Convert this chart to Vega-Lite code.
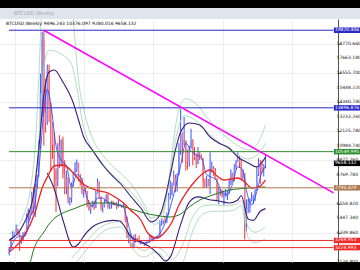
{
  "$schema": "https://vega.github.io/schema/vega-lite/v6.json",
  "background": "#000000",
  "padding": {"top": 8, "left": 0, "right": 0, "bottom": 8},
  "spacing": 0,
  "bounds": "flush",
  "config": {"view": {"stroke": null}, "font": "DejaVu Sans"},
  "datasets": {
    "candles": [
      {"i":0,"o":2730,"h":3290,"l":2620,"c":3230},{"i":1,"o":3230,"h":3970,"l":3140,"c":3880},{"i":2,"o":3880,"h":4480,"l":3850,"c":4170},{"i":3,"o":4170,"h":4380,"l":3990,"c":4350},
      {"i":4,"o":4350,"h":4980,"l":4300,"c":4580},{"i":5,"o":4580,"h":4700,"l":4150,"c":4220},{"i":6,"o":4220,"h":4400,"l":2970,"c":3700},{"i":7,"o":3700,"h":4100,"l":3500,"c":3780},
      {"i":8,"o":3780,"h":4400,"l":3700,"c":4360},{"i":9,"o":4360,"h":4450,"l":4150,"c":4430},{"i":10,"o":4430,"h":5850,"l":4430,"c":5650},{"i":11,"o":5650,"h":6200,"l":5100,"c":6000},
      {"i":12,"o":6000,"h":6100,"l":5400,"c":5750},{"i":13,"o":5750,"h":7500,"l":5700,"c":7380},{"i":14,"o":7380,"h":7880,"l":5850,"c":6350},{"i":15,"o":6350,"h":8100,"l":5550,"c":7780},
      {"i":16,"o":7780,"h":8800,"l":7700,"c":8750},{"i":17,"o":8750,"h":11400,"l":8600,"c":10900},{"i":18,"o":10900,"h":16500,"l":10800,"c":15000},{"i":19,"o":15000,"h":19700,"l":13200,"c":19100},
      {"i":20,"o":19100,"h":19820,"l":11000,"c":13500},{"i":21,"o":13500,"h":16100,"l":12000,"c":12800},{"i":22,"o":12800,"h":17200,"l":12600,"c":16800},{"i":23,"o":16800,"h":17200,"l":12800,"c":14100},
      {"i":24,"o":14100,"h":14300,"l":9100,"c":12700},{"i":25,"o":12700,"h":12800,"l":10000,"c":11100},{"i":26,"o":11100,"h":12000,"l":7700,"c":9100},{"i":27,"o":9100,"h":9300,"l":5950,"c":8400},
      {"i":28,"o":8400,"h":11200,"l":7900,"c":11000},{"i":29,"o":11000,"h":11800,"l":9300,"c":9600},{"i":30,"o":9600,"h":11500,"l":9400,"c":11400},{"i":31,"o":11400,"h":11700,"l":8500,"c":8800},
      {"i":32,"o":8800,"h":9900,"l":7300,"c":7900},{"i":33,"o":7900,"h":9100,"l":7300,"c":8500},{"i":34,"o":8500,"h":8600,"l":6600,"c":6900},{"i":35,"o":6900,"h":7100,"l":6450,"c":7000},
      {"i":36,"o":7000,"h":8200,"l":6650,"c":8000},{"i":37,"o":8000,"h":9000,"l":7900,"c":8900},{"i":38,"o":8900,"h":9750,"l":8700,"c":9300},{"i":39,"o":9300,"h":9950,"l":9000,"c":9700},
      {"i":40,"o":9700,"h":9700,"l":8300,"c":8500},{"i":41,"o":8500,"h":8850,"l":7950,"c":8200},{"i":42,"o":8200,"h":8550,"l":7300,"c":7500},{"i":43,"o":7500,"h":7700,"l":7050,"c":7600},
      {"i":44,"o":7600,"h":7780,"l":7480,"c":7550},{"i":45,"o":7550,"h":7550,"l":6300,"c":6450},{"i":46,"o":6450,"h":6850,"l":6050,"c":6100},{"i":47,"o":6100,"h":6500,"l":5800,"c":6400},
      {"i":48,"o":6400,"h":6800,"l":6300,"c":6750},{"i":49,"o":6750,"h":6800,"l":6100,"c":6250},{"i":50,"o":6250,"h":7600,"l":6250,"c":7400},{"i":51,"o":7400,"h":8500,"l":7350,"c":8200},
      {"i":52,"o":8200,"h":8280,"l":7000,"c":7050},{"i":53,"o":7050,"h":7150,"l":6050,"c":6300},{"i":54,"o":6300,"h":6600,"l":5900,"c":6400},{"i":55,"o":6400,"h":6900,"l":6300,"c":6700},
      {"i":56,"o":6700,"h":7300,"l":6650,"c":7200},{"i":57,"o":7200,"h":7420,"l":6200,"c":6400},{"i":58,"o":6400,"h":6550,"l":6150,"c":6500},{"i":59,"o":6500,"h":6800,"l":6200,"c":6700},
      {"i":60,"o":6700,"h":6800,"l":6450,"c":6600},{"i":61,"o":6600,"h":6650,"l":6450,"c":6580},{"i":62,"o":6580,"h":6700,"l":6150,"c":6300},{"i":63,"o":6300,"h":6900,"l":6300,"c":6450},
      {"i":64,"o":6450,"h":6550,"l":6400,"c":6480},{"i":65,"o":6480,"h":6500,"l":6250,"c":6380},{"i":66,"o":6380,"h":6550,"l":6350,"c":6400},{"i":67,"o":6400,"h":6450,"l":5150,"c":5550},
      {"i":68,"o":5550,"h":5600,"l":3950,"c":4000},{"i":69,"o":4000,"h":4400,"l":3550,"c":4200},{"i":70,"o":4200,"h":4300,"l":3300,"c":3400},{"i":71,"o":3400,"h":3600,"l":3200,"c":3200},
      {"i":72,"o":3200,"h":4200,"l":3200,"c":3950},{"i":73,"o":3950,"h":4250,"l":3600,"c":3850},{"i":74,"o":3850,"h":3950,"l":3650,"c":3800},{"i":75,"o":3800,"h":4150,"l":3550,"c":3600},
      {"i":76,"o":3600,"h":3750,"l":3450,"c":3650},{"i":77,"o":3650,"h":3650,"l":3500,"c":3550},{"i":78,"o":3550,"h":3600,"l":3350,"c":3500},{"i":79,"o":3500,"h":3700,"l":3400,"c":3650},
      {"i":80,"o":3650,"h":3700,"l":3550,"c":3600},{"i":81,"o":3600,"h":4200,"l":3600,"c":4100},{"i":82,"o":4100,"h":4200,"l":3700,"c":3820},{"i":83,"o":3820,"h":4000,"l":3700,"c":3950},
      {"i":84,"o":3950,"h":4050,"l":3850,"c":4000},{"i":85,"o":4000,"h":4100,"l":3950,"c":4000},{"i":86,"o":4000,"h":4150,"l":3900,"c":4100},{"i":87,"o":4100,"h":5300,"l":4100,"c":5050},
      {"i":88,"o":5050,"h":5450,"l":4900,"c":5080},{"i":89,"o":5080,"h":5350,"l":5000,"c":5300},{"i":90,"o":5300,"h":5650,"l":5100,"c":5200},{"i":91,"o":5200,"h":5900,"l":5100,"c":5800},
      {"i":92,"o":5800,"h":7400,"l":5700,"c":7250},{"i":93,"o":7250,"h":8350,"l":6900,"c":7300},{"i":94,"o":7300,"h":8200,"l":7200,"c":8000},{"i":95,"o":8000,"h":9100,"l":7950,"c":8550},
      {"i":96,"o":8550,"h":8800,"l":7450,"c":7800},{"i":97,"o":7800,"h":8900,"l":7500,"c":8800},{"i":98,"o":8800,"h":11200,"l":8800,"c":10700},{"i":99,"o":10700,"h":13800,"l":10300,"c":11900},
      {"i":100,"o":11900,"h":12000,"l":9700,"c":11250},{"i":101,"o":11250,"h":13200,"l":11000,"c":11400},{"i":102,"o":11400,"h":11400,"l":9100,"c":10500},{"i":103,"o":10500,"h":10700,"l":9200,"c":9800},
      {"i":104,"o":9800,"h":11000,"l":9400,"c":10800},{"i":105,"o":10800,"h":12300,"l":10800,"c":11400},{"i":106,"o":11400,"h":11500,"l":9500,"c":10300},{"i":107,"o":10300,"h":10900,"l":9900,"c":10100},
      {"i":108,"o":10100,"h":10400,"l":9300,"c":9600},{"i":109,"o":9600,"h":10900,"l":9600,"c":10400},{"i":110,"o":10400,"h":10500,"l":9900,"c":10350},{"i":111,"o":10350,"h":10350,"l":9950,"c":10000},
      {"i":112,"o":10000,"h":10050,"l":7800,"c":8200},{"i":113,"o":8200,"h":8500,"l":7800,"c":8150},{"i":114,"o":8150,"h":8700,"l":7800,"c":8300},{"i":115,"o":8300,"h":8450,"l":7900,"c":7950},
      {"i":116,"o":7950,"h":10500,"l":7300,"c":9250},{"i":117,"o":9250,"h":9800,"l":8950,"c":9300},{"i":118,"o":9300,"h":9450,"l":8700,"c":8800},{"i":119,"o":8800,"h":9300,"l":8400,"c":8500},
      {"i":120,"o":8500,"h":8500,"l":6800,"c":7300},{"i":121,"o":7300,"h":7900,"l":6550,"c":7550},{"i":122,"o":7550,"h":7700,"l":7200,"c":7500},{"i":123,"o":7500,"h":7650,"l":7050,"c":7100},
      {"i":124,"o":7100,"h":7500,"l":6450,"c":7150},{"i":125,"o":7150,"h":7700,"l":7100,"c":7300},{"i":126,"o":7300,"h":7600,"l":6850,"c":7350},{"i":127,"o":7350,"h":8450,"l":7350,"c":8050},
      {"i":128,"o":8050,"h":9200,"l":8000,"c":8900},{"i":129,"o":8900,"h":8950,"l":8250,"c":8350},{"i":130,"o":8350,"h":9600,"l":8300,"c":9350},{"i":131,"o":9350,"h":9900,"l":9150,"c":9800},
      {"i":132,"o":9800,"h":10500,"l":9750,"c":9900},{"i":133,"o":9900,"h":10200,"l":9300,"c":9700},{"i":134,"o":9700,"h":9950,"l":8450,"c":8550},{"i":135,"o":8550,"h":9200,"l":8400,"c":8900},
      {"i":136,"o":8900,"h":8900,"l":3850,"c":5350},{"i":137,"o":5350,"h":6900,"l":4450,"c":6200},{"i":138,"o":6200,"h":6950,"l":5850,"c":6250},{"i":139,"o":6250,"h":7000,"l":5900,"c":6850},
      {"i":140,"o":6850,"h":7450,"l":6750,"c":6900},{"i":141,"o":6900,"h":7250,"l":6550,"c":7250},{"i":142,"o":7250,"h":7700,"l":6800,"c":7550},{"i":143,"o":7550,"h":9450,"l":7550,"c":8850},
      {"i":144,"o":8850,"h":10050,"l":8700,"c":9550},{"i":145,"o":9550,"h":9900,"l":8100,"c":9350},{"i":146,"o":9350,"h":9900,"l":8900,"c":9200},{"i":147,"o":9200,"h":9600,"l":8650,"c":9450},
      {"i":148,"o":9496.243,"h":10376.097,"l":9280.016,"c":9658.132}
    ],
    "fast": [
      {"i":0,"v":2900},{"i":3,"v":3800},{"i":6,"v":4100},{"i":9,"v":4100},{"i":12,"v":5500},{"i":15,"v":6700},{"i":18,"v":10500},{"i":20,"v":13800},{"i":22,"v":15300},{"i":24,"v":14200},{"i":27,"v":11000},{"i":30,"v":9900},{"i":33,"v":9500},{"i":36,"v":7800},{"i":39,"v":8800},{"i":42,"v":8400},{"i":45,"v":7000},{"i":48,"v":6400},{"i":51,"v":7000},{"i":54,"v":7000},{"i":57,"v":6700},{"i":60,"v":6550},{"i":63,"v":6450},{"i":66,"v":6300},{"i":68,"v":5400},{"i":70,"v":4400},{"i":72,"v":3700},{"i":75,"v":3750},{"i":78,"v":3570},{"i":81,"v":3700},{"i":84,"v":3950},{"i":87,"v":4300},{"i":90,"v":5100},{"i":93,"v":6300},{"i":96,"v":7800},{"i":99,"v":9500},{"i":102,"v":11200},{"i":105,"v":10600},{"i":108,"v":10300},{"i":111,"v":10100},{"i":114,"v":8800},{"i":117,"v":8600},{"i":120,"v":8300},{"i":123,"v":7400},{"i":126,"v":7250},{"i":129,"v":8100},{"i":132,"v":9400},{"i":135,"v":9100},{"i":137,"v":7600},{"i":140,"v":6500},{"i":143,"v":7500},{"i":146,"v":9000},{"i":148,"v":9400}
    ],
    "ma20": [
      {"i":0,"v":2889},{"i":9,"v":4187},{"i":15,"v":5943},{"i":19,"v":7776},{"i":22,"v":8615},{"i":26,"v":9455},{"i":31,"v":9532},{"i":37,"v":8921},{"i":42,"v":8157},{"i":50,"v":7623},{"i":57,"v":7394},{"i":62,"v":7012},{"i":66,"v":6630},{"i":70,"v":6096},{"i":76,"v":5332},{"i":80,"v":4340},{"i":85,"v":3958},{"i":90,"v":4416},{"i":94,"v":5180},{"i":98,"v":6478},{"i":101,"v":7165},{"i":105,"v":7928},{"i":109,"v":8539},{"i":113,"v":8997},{"i":116,"v":9150},{"i":120,"v":8692},{"i":124,"v":8386},{"i":128,"v":8463},{"i":132,"v":8539},{"i":136,"v":8233},{"i":140,"v":7776},{"i":144,"v":7852},{"i":148,"v":8386}
    ],
    "ma50": [
      {"i":0,"v":1200},{"i":12,"v":2126},{"i":14,"v":3042},{"i":20,"v":4416},{"i":25,"v":5332},{"i":31,"v":5867},{"i":37,"v":6172},{"i":48,"v":6630},{"i":59,"v":6630},{"i":65,"v":6401},{"i":76,"v":5943},{"i":87,"v":5638},{"i":93,"v":5561},{"i":99,"v":5790},{"i":104,"v":6325},{"i":110,"v":6859},{"i":116,"v":7165},{"i":121,"v":7394},{"i":127,"v":7623},{"i":132,"v":7699},{"i":138,"v":7776},{"i":148,"v":7852}
    ],
    "pband": [
      {"s":"u","i":0,"v":3805},{"s":"u","i":8,"v":4950},{"s":"u","i":14,"v":7241},{"s":"u","i":17,"v":10677},{"s":"u","i":20,"v":14876},{"s":"u","i":23,"v":16632},{"s":"u","i":26,"v":16785},{"s":"u","i":31,"v":15868},{"s":"u","i":37,"v":14265},{"s":"u","i":40,"v":12967},{"s":"u","i":43,"v":11669},{"s":"u","i":48,"v":10677},{"s":"u","i":54,"v":9532},{"s":"u","i":59,"v":8768},{"s":"u","i":65,"v":8004},{"s":"u","i":70,"v":7165},{"s":"u","i":76,"v":6248},{"s":"u","i":82,"v":5180},{"s":"u","i":87,"v":5714},{"s":"u","i":93,"v":8768},{"s":"u","i":96,"v":10677},{"s":"u","i":99,"v":12051},{"s":"u","i":104,"v":12738},{"s":"u","i":110,"v":12586},{"s":"u","i":116,"v":11669},{"s":"u","i":121,"v":11211},{"s":"u","i":127,"v":10829},{"s":"u","i":132,"v":10142},{"s":"u","i":138,"v":9684},{"s":"u","i":143,"v":9379},{"s":"u","i":148,"v":10142},
      {"s":"l","i":22,"v":8921},{"s":"l","i":26,"v":7700},{"s":"l","i":31,"v":5332},{"s":"l","i":37,"v":3271},{"s":"l","i":40,"v":3500},{"s":"l","i":43,"v":4100},{"s":"l","i":48,"v":4800},{"s":"l","i":54,"v":5180},{"s":"l","i":60,"v":5300},{"s":"l","i":64,"v":5250},{"s":"l","i":66,"v":4950},{"s":"l","i":70,"v":4100},{"s":"l","i":76,"v":3650},{"s":"l","i":82,"v":3200},{"s":"l","i":87,"v":2600},{"s":"l","i":90,"v":2200},{"s":"l","i":93,"v":2500},{"s":"l","i":99,"v":5000},{"s":"l","i":104,"v":6700},{"s":"l","i":109,"v":7100},{"s":"l","i":115,"v":6900},{"s":"l","i":121,"v":6780},{"s":"l","i":127,"v":6630},{"s":"l","i":132,"v":6859},{"s":"l","i":134,"v":7200},{"s":"l","i":138,"v":5400},{"s":"l","i":141,"v":5300},{"s":"l","i":145,"v":6000},{"s":"l","i":148,"v":6200}
    ],
    "gband": [
      {"s":"u1","i":0,"v":4300},{"s":"u1","i":8,"v":5600},{"s":"u1","i":12,"v":7500},{"s":"u1","i":15,"v":11000},{"s":"u1","i":17,"v":16000},{"s":"u1","i":19,"v":21500},{"s":"u1","i":30,"v":23500},{"s":"u1","i":36,"v":22000},{"s":"u1","i":38,"v":19000},{"s":"u1","i":40,"v":16000},{"s":"u1","i":43,"v":13800},{"s":"u1","i":48,"v":11600},{"s":"u1","i":54,"v":10300},{"s":"u1","i":60,"v":9400},{"s":"u1","i":66,"v":8700},{"s":"u1","i":72,"v":7800},{"s":"u1","i":78,"v":6500},{"s":"u1","i":84,"v":5000},{"s":"u1","i":88,"v":5300},{"s":"u1","i":92,"v":8200},{"s":"u1","i":95,"v":11500},{"s":"u1","i":98,"v":13800},{"s":"u1","i":102,"v":14600},{"s":"u1","i":108,"v":14200},{"s":"u1","i":114,"v":13200},{"s":"u1","i":120,"v":12300},{"s":"u1","i":126,"v":11600},{"s":"u1","i":132,"v":11000},{"s":"u1","i":138,"v":10700},{"s":"u1","i":144,"v":11300},{"s":"u1","i":148,"v":12600},
      {"s":"u2","i":16,"v":9000},{"s":"u2","i":18,"v":13000},{"s":"u2","i":20,"v":17000},{"s":"u2","i":23,"v":18300},{"s":"u2","i":30,"v":18000},{"s":"u2","i":36,"v":17200},{"s":"u2","i":39,"v":15500},{"s":"u2","i":42,"v":13000},{"s":"u2","i":46,"v":11200},{"s":"u2","i":52,"v":10000},{"s":"u2","i":58,"v":9000},{"s":"u2","i":64,"v":8300},{"s":"u2","i":70,"v":7500},{"s":"u2","i":76,"v":6600},{"s":"u2","i":82,"v":5500},{"s":"u2","i":88,"v":5800},{"s":"u2","i":93,"v":9000},{"s":"u2","i":97,"v":12000},{"s":"u2","i":101,"v":13300},{"s":"u2","i":108,"v":12900},{"s":"u2","i":114,"v":12100},{"s":"u2","i":120,"v":11400},{"s":"u2","i":126,"v":10800},{"s":"u2","i":132,"v":10300},{"s":"u2","i":138,"v":10000},{"s":"u2","i":144,"v":10400},{"s":"u2","i":148,"v":11200},
      {"s":"l1","i":0,"v":2200},{"s":"l1","i":6,"v":1800},{"s":"l1","i":34,"v":1500},{"s":"l1","i":40,"v":2300},{"s":"l1","i":46,"v":3300},{"s":"l1","i":52,"v":4200},{"s":"l1","i":58,"v":4700},{"s":"l1","i":64,"v":4800},{"s":"l1","i":68,"v":4200},{"s":"l1","i":72,"v":3000},{"s":"l1","i":78,"v":2500},{"s":"l1","i":84,"v":2900},{"s":"l1","i":90,"v":2300},{"s":"l1","i":94,"v":1200},{"s":"l1","i":100,"v":2000},{"s":"l1","i":106,"v":4500},{"s":"l1","i":112,"v":5800},{"s":"l1","i":118,"v":6000},{"s":"l1","i":124,"v":6000},{"s":"l1","i":130,"v":6100},{"s":"l1","i":134,"v":6400},{"s":"l1","i":138,"v":4000},{"s":"l1","i":142,"v":3600},{"s":"l1","i":148,"v":3900},
      {"s":"l2","i":36,"v":2400},{"s":"l2","i":40,"v":3000},{"s":"l2","i":46,"v":3900},{"s":"l2","i":52,"v":4700},{"s":"l2","i":58,"v":5100},{"s":"l2","i":64,"v":5200},{"s":"l2","i":68,"v":4700},{"s":"l2","i":72,"v":3600},{"s":"l2","i":78,"v":3000},{"s":"l2","i":84,"v":3300},{"s":"l2","i":90,"v":2900},{"s":"l2","i":94,"v":2300},{"s":"l2","i":100,"v":3400},{"s":"l2","i":106,"v":5600},{"s":"l2","i":112,"v":6400},{"s":"l2","i":118,"v":6500},{"s":"l2","i":124,"v":6400},{"s":"l2","i":130,"v":6500},{"s":"l2","i":134,"v":6800},{"s":"l2","i":138,"v":4800},{"s":"l2","i":142,"v":4400},{"s":"l2","i":148,"v":4800}
    ],
    "ticks": [
      {"v":2124.9,"label":"2124.900"},{"v":4339.86,"label":"4339.860"},{"v":5447.34,"label":"5447.340"},{"v":6554.82,"label":"6554.820"},{"v":8769.78,"label":"8769.780"},{"v":9877.26,"label":"9877.260"},{"v":10984.74,"label":"10984.740"},{"v":12125.78,"label":"12125.780"},{"v":13233.26,"label":"13233.260"},{"v":14340.74,"label":"14340.740"},{"v":15448.22,"label":"15448.220"},{"v":16555.7,"label":"16555.700"},{"v":17663.18,"label":"17663.180"},{"v":18770.66,"label":"18770.660"}
    ],
    "levels": [
      {"v":19820.406,"label":"19820.406","col":"#2a2ac4"},
      {"v":13896.876,"label":"13896.876","col":"#2a2ac4"},
      {"v":10549.995,"label":"10549.995","col":"#2e8b2e"},
      {"v":7790.429,"label":"7790.429","col":"#b07a52"},
      {"v":3769.953,"label":"3769.953","col":"#f02828"},
      {"v":3224.993,"label":"3224.993","col":"#f02828"}
    ],
    "current": [{"v":9658.132,"label":"9658.132"}],
    "trend": [{"i":20,"v":19820.406},{"i":187.3,"v":7400}]
  },
  "vconcat": [
    {
      "width": 360,
      "height": 11,
      "view": {"fill": "#dfe5ec", "stroke": null},
      "title": {"text": "BTCUSD,Weekly", "anchor": "start", "offset": -8, "dx": 14, "fontSize": 5, "fontWeight": "normal", "color": "#9aa6b4", "font": "DejaVu Sans"},
      "data": {"values": [{"a": 1}]},
      "mark": {"type": "point", "opacity": 0},
      "encoding": {}
    },
    {
      "width": 360,
      "height": 243,
      "view": {"fill": "#ffffff", "stroke": null},
      "title": {"text": "BTCUSD,Weekly  9496.243 10376.097 9280.016 9658.132", "anchor": "start", "offset": -6, "dx": 6, "fontSize": 4.5, "fontWeight": "normal", "color": "#000000", "font": "DejaVu Sans"},
      "layer": [
        {
          "data": {"name": "candles"},
          "mark": {"type": "rule", "strokeWidth": 0.9, "clip": true},
          "encoding": {
            "x": {"field": "i", "type": "quantitative", "scale": {"domain": [-2.46, 199.7], "nice": false, "zero": false},
                  "axis": {"title": null, "labels": false, "ticks": false, "domain": false, "grid": true, "gridColor": "#eceef3", "values": [3.3,13.3,23.3,33.3,43.3,53.3,63.3,73.3,83.3,93.3,103.3,113.3,123.3,133.3,143.3,153.3,163.3,173.3,183.3]}},
            "y": {"field": "l", "type": "quantitative", "scale": {"domain": [2125.7, 20678], "nice": false, "zero": false},
                  "axis": {"orient": "right", "offset": -22, "title": null, "labels": false, "values": [2124.9,4339.86,5447.34,6554.82,8769.78,9877.26,10984.74,12125.78,13233.26,14340.74,15448.22,16555.7,17663.18,18770.66],
                           "tickSize": 2, "tickColor": "#555555", "domainColor": "#555555", "gridColor": "#eceef3"}},
            "y2": {"field": "h"},
            "color": {"condition": {"test": "datum.c >= datum.o", "value": "#2040ff"}, "value": "#f01c1c"}
          }
        },
        {
          "data": {"name": "candles"},
          "mark": {"type": "bar", "size": 1.4, "clip": true},
          "encoding": {
            "x": {"field": "i", "type": "quantitative"},
            "y": {"field": "o", "type": "quantitative"},
            "y2": {"field": "c"},
            "color": {"condition": {"test": "datum.c >= datum.o", "value": "#8c8cf0"}, "value": "#f07a8a"}
          }
        },
        {
          "data": {"name": "gband"},
          "mark": {"type": "line", "color": "#9fd4ae", "strokeWidth": 0.8, "interpolate": "monotone", "clip": true},
          "encoding": {"x": {"field": "i", "type": "quantitative"}, "y": {"field": "v", "type": "quantitative"}, "detail": {"field": "s"}}
        },
        {
          "data": {"name": "fast"},
          "mark": {"type": "line", "color": "#1f3cff", "strokeWidth": 0.8, "interpolate": "monotone", "clip": true},
          "encoding": {"x": {"field": "i", "type": "quantitative"}, "y": {"field": "v", "type": "quantitative"}}
        },
        {
          "data": {"name": "pband"},
          "mark": {"type": "line", "color": "#3a1d78", "strokeWidth": 1.1, "interpolate": "monotone", "clip": true},
          "encoding": {"x": {"field": "i", "type": "quantitative"}, "y": {"field": "v", "type": "quantitative"}, "detail": {"field": "s"}}
        },
        {
          "data": {"name": "ma50"},
          "mark": {"type": "line", "color": "#1f7a1f", "strokeWidth": 1, "interpolate": "monotone", "clip": true},
          "encoding": {"x": {"field": "i", "type": "quantitative"}, "y": {"field": "v", "type": "quantitative"}}
        },
        {
          "data": {"name": "ma20"},
          "mark": {"type": "line", "color": "#ee2020", "strokeWidth": 1.3, "interpolate": "monotone", "clip": true},
          "encoding": {"x": {"field": "i", "type": "quantitative"}, "y": {"field": "v", "type": "quantitative"}}
        },
        {
          "data": {"name": "levels"},
          "mark": {"type": "rule", "strokeWidth": 1},
          "encoding": {"x": {"datum": -0.2}, "x2": {"datum": 187.3}, "y": {"field": "v", "type": "quantitative"}, "color": {"field": "col", "type": "nominal", "scale": null}}
        },
        {
          "data": {"name": "trend"},
          "mark": {"type": "line", "color": "#ff00ff", "strokeWidth": 1.5},
          "encoding": {"x": {"field": "i", "type": "quantitative"}, "y": {"field": "v", "type": "quantitative"}}
        },
        {
          "data": {"name": "ticks"},
          "mark": {"type": "text", "align": "left", "baseline": "middle", "fontSize": 4.5, "color": "#222222", "dx": 3},
          "encoding": {"x": {"datum": 187.3}, "y": {"field": "v", "type": "quantitative"}, "text": {"field": "label"}}
        },
        {
          "data": {"name": "levels"},
          "mark": {"type": "rule", "strokeWidth": 5.5, "strokeCap": "butt"},
          "encoding": {"x": {"datum": 187.5}, "x2": {"datum": 205}, "y": {"field": "v", "type": "quantitative"}, "color": {"field": "col", "type": "nominal", "scale": null}}
        },
        {
          "data": {"name": "current"},
          "mark": {"type": "rule", "strokeWidth": 5.5, "strokeCap": "butt", "color": "#000000"},
          "encoding": {"x": {"datum": 187.5}, "x2": {"datum": 205}, "y": {"field": "v", "type": "quantitative"}}
        },
        {
          "data": {"name": "levels"},
          "mark": {"type": "text", "align": "left", "baseline": "middle", "fontSize": 4.5, "color": "#ffffff", "dx": 1},
          "encoding": {"x": {"datum": 187.5}, "y": {"field": "v", "type": "quantitative"}, "text": {"field": "label"}}
        },
        {
          "data": {"name": "current"},
          "mark": {"type": "text", "align": "left", "baseline": "middle", "fontSize": 4.5, "color": "#ffffff", "dx": 1},
          "encoding": {"x": {"datum": 187.5}, "y": {"field": "v", "type": "quantitative"}, "text": {"field": "label"}}
        }
      ]
    }
  ]
}
